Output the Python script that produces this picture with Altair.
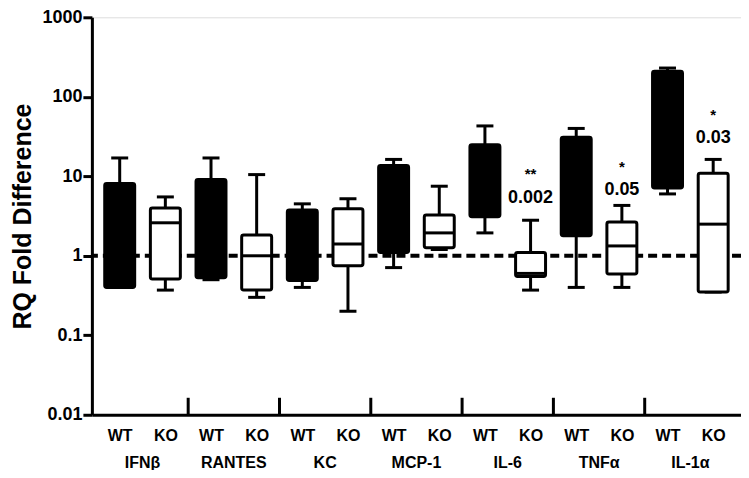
import altair as alt
import pandas as pd

groups = ["IFNβ", "RANTES", "KC", "MCP-1", "IL-6", "TNFα", "IL-1α"]
genotypes = ["WT", "KO"]

whisker_low = [0.40, 0.37, 0.50, 0.30, 0.40, 0.20, 0.71, 1.20, 1.94, 0.37, 0.40, 0.40, 6.0, 0.35]
q1 = [0.40, 0.51, 0.53, 0.37, 0.49, 0.75, 1.10, 1.26, 3.10, 0.55, 1.78, 0.59, 7.1, 0.35]
median = [None, 2.6, None, 1.0, None, 1.41, None, 1.94, None, 0.60, None, 1.33, None, 2.5]
q3 = [8.1, 4.0, 9.1, 1.83, 3.76, 3.9, 13.7, 3.25, 25.0, 1.10, 31.0, 2.66, 210.0, 10.9]
whisker_high = [17.0, 5.5, 17.0, 10.5, 4.5, 5.2, 16.3, 7.5, 43.0, 2.8, 40.0, 4.3, 230.0, 16.3]

# significance annotations (group, stars, p-value, anchor value for stars, anchor for p)
annot_group = ["IL-6", "TNFα", "IL-1α"]
annot_stars = ["**", "*", "*"]
annot_p = ["0.002", "0.05", "0.03"]
annot_star_y = [10.6, 12.9, 59.6]
annot_p_y = [5.3, 6.7, 29.9]

rows = []
for gi, g in enumerate(groups):
    for ki, k in enumerate(genotypes):
        i = gi * 2 + ki
        rows.append(dict(group=g, geno=k, pos=i, lo=whisker_low[i], q1=q1[i],
                         med=median[i], q3=q3[i], hi=whisker_high[i]))
df = pd.DataFrame(rows)
df_med = df.dropna(subset=["med"])

pos_of = {(g, k): gi * 2 + ki for gi, g in enumerate(groups) for ki, k in enumerate(genotypes)}
ann = pd.DataFrame(dict(pos=[pos_of[(g, "KO")] for g in annot_group],
                        stars=annot_stars, p=annot_p, sy=annot_star_y, py=annot_p_y))
grp = pd.DataFrame(dict(group=groups, center=[gi * 2 + 0.5 for gi in range(len(groups))]))
bounds = pd.DataFrame(dict(b=[gi * 2 + 1.5 for gi in range(len(groups) - 1)]))
ref = pd.DataFrame(dict(v=[1.0]))

FONT = "Liberation Sans"
W, H = 650, 398

xscale = alt.Scale(domain=[-0.5, 13.5], nice=False, zero=False)
yscale = alt.Scale(type="log", domain=[0.01, 1000], nice=False)

x_enc = alt.X("pos:Q", scale=xscale,
              axis=alt.Axis(values=list(range(14)), title=None, grid=False,
                            labelExpr="datum.value % 2 == 0 ? 'WT' : 'KO'",
                            ticks=False, domainWidth=3, domainColor="black",
                            labelFont=FONT, labelFontSize=16, labelFontWeight="bold",
                            labelColor="black", labelPadding=13))
y_axis = alt.Axis(values=[0.01, 0.1, 1, 10, 100, 1000], format="~g", grid=False,
                  title="RQ Fold  Difference", titleFont=FONT, titleFontSize=25,
                  titleFontWeight="bold", titleColor="black", titlePadding=6,
                  labelFont=FONT, labelFontSize=18, labelFontWeight="bold",
                  labelColor="black", labelPadding=1, tickSize=9, tickWidth=3,
                  tickColor="black", domainWidth=3, domainColor="black")

base = alt.Chart(df)

dashed = alt.Chart(ref).mark_rule(strokeDash=[9, 5], strokeWidth=4, color="black").encode(
    y=alt.Y("v:Q", scale=yscale, axis=y_axis))

whisk = base.mark_rule(strokeWidth=3, color="black").encode(
    x=x_enc, y=alt.Y("lo:Q", scale=yscale), y2="hi:Q")

cap_hi = base.mark_tick(orient="horizontal", size=17, thickness=3, color="black", opacity=1).encode(
    x="pos:Q", y=alt.Y("hi:Q", scale=yscale))
cap_lo = base.mark_tick(orient="horizontal", size=17, thickness=3, color="black", opacity=1).encode(
    x="pos:Q", y=alt.Y("lo:Q", scale=yscale))

boxes = base.mark_bar(width=30, stroke="black", strokeWidth=3, cornerRadius=2, opacity=1).encode(
    x="pos:Q", y=alt.Y("q1:Q", scale=yscale), y2="q3:Q",
    fill=alt.Fill("geno:N", scale=alt.Scale(domain=["WT", "KO"], range=["black", "white"]),
                  legend=None))

meds = alt.Chart(df_med).mark_tick(orient="horizontal", size=31, thickness=3, color="black",
                                   opacity=1).encode(
    x="pos:Q", y=alt.Y("med:Q", scale=yscale))

stars = alt.Chart(ann).mark_text(font=FONT, fontSize=15, fontWeight="bold", color="black",
                                 baseline="middle").encode(
    x="pos:Q", y=alt.Y("sy:Q", scale=yscale), text="stars:N")
pvals = alt.Chart(ann).mark_text(font=FONT, fontSize=18, fontWeight="bold", color="black",
                                 baseline="middle").encode(
    x="pos:Q", y=alt.Y("py:Q", scale=yscale), text="p:N")

gticks = alt.Chart(bounds).mark_rule(strokeWidth=3, color="black").encode(
    x="b:Q", y=alt.value(H), y2=alt.value(H - 17))

glabels = alt.Chart(grp).mark_text(font=FONT, fontSize=16, fontWeight="bold", color="black",
                                   baseline="middle").encode(
    x="center:Q", y=alt.value(H + 48), text="group:N")

chart = alt.layer(dashed, whisk, cap_hi, cap_lo, boxes, meds, stars, pvals, gticks, glabels).properties(
    width=W, height=H,
    autosize=alt.AutoSizeParams(type="none"),
    padding={"left": 84, "top": 9, "right": 0, "bottom": 55},
).configure_view(stroke=None).configure(background="white")

chart.save("out.html", embed_options={"renderer": "svg", "actions": False})
